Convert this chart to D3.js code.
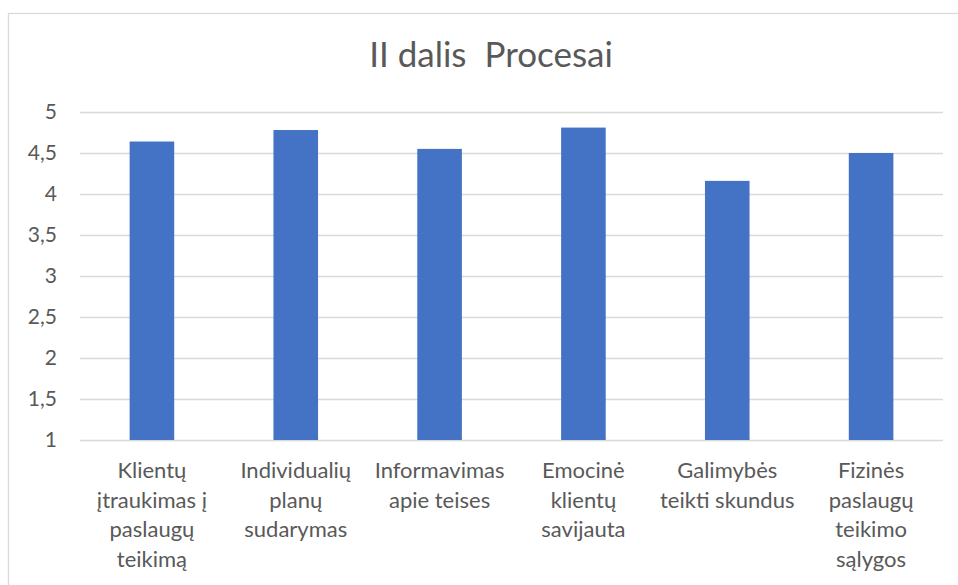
<!DOCTYPE html>
<html>
<head>
<meta charset="utf-8">
<script src="https://cdn.jsdelivr.net/npm/d3@7"></script>
<style>
  html, body { margin: 0; padding: 0; background: #fff; }
  svg { display: block; }
  text { font-family: Lato, Carlito, Calibri, sans-serif; fill: #595959; }
</style>
</head>
<body>
<svg id="chart" width="958" height="585"></svg>
<script>
const title = "II dalis  Procesai";
const categories = [
  "Klientų\nįtraukimas į\npaslaugų\nteikimą",
  "Individualių\nplanų\nsudarymas",
  "Informavimas\napie teises",
  "Emocinė\nklientų\nsavijauta",
  "Galimybės\nteikti skundus",
  "Fizinės\npaslaugų\nteikimo\nsąlygos"
];
const values = [4.64, 4.78, 4.55, 4.81, 4.16, 4.50];
const yTicks = [1, 1.5, 2, 2.5, 3, 3.5, 4, 4.5, 5];

const svg = d3.select("#chart");
const plot = { left: 80, right: 943, top: 112, bottom: 440 };

// chart frame
svg.append("rect")
  .attr("x", 8.5).attr("y", 13.5)
  .attr("width", 1000).attr("height", 700)
  .attr("fill", "#fff").attr("stroke", "#d9d9d9").attr("stroke-width", 1.3);

const x = d3.scaleBand().domain(categories).range([plot.left, plot.right]).paddingInner(0.69).paddingOuter(0.345);
const y = d3.scaleLinear().domain([1, 5]).range([plot.bottom, plot.top]);

// gridlines + value labels
const yAxis = d3.axisLeft(y).tickValues(yTicks)
  .tickSize(-(plot.right - plot.left)).tickPadding(23)
  .tickFormat(d => d3.format("")(d).replace(".", ","));
const gy = svg.append("g").attr("transform", `translate(${plot.left},0)`).call(yAxis);
gy.select(".domain").remove();
gy.selectAll(".tick line").attr("stroke", "#d9d9d9").attr("stroke-width", 1.3);
gy.selectAll(".tick text").attr("font-size", "21px").attr("fill", "#5f5f5f")
  .style("font-family", "Lato, Carlito, Calibri, sans-serif");

// bars
svg.append("g").selectAll("rect").data(values).join("rect")
  .attr("x", (d, i) => x(categories[i]))
  .attr("width", x.bandwidth())
  .attr("y", d => y(d))
  .attr("height", d => y(1) - y(d))
  .attr("fill", "#4472c4");

// category labels
const xAxis = d3.axisBottom(x).tickSize(0).tickFormat("");
const gx = svg.append("g").attr("transform", `translate(0,${plot.bottom})`).call(xAxis);
gx.select(".domain").remove();
gx.selectAll(".tick").each(function(d) {
  const t = d3.select(this).append("text")
    .attr("text-anchor", "middle")
    .attr("font-size", "22px")
    .attr("fill", "#5f5f5f");
  d.split("\n").forEach((line, k) => {
    t.append("tspan").attr("x", 0).attr("y", 38 + k * 29.7).text(line);
  });
});

// title
svg.append("text")
  .attr("x", 491).attr("y", 67)
  .attr("text-anchor", "middle")
  .attr("font-size", "35px")
  .attr("fill", "#5f5f5f")
  .style("white-space", "pre")
  .attr("xml:space", "preserve")
  .text(title);
</script>
</body>
</html>
